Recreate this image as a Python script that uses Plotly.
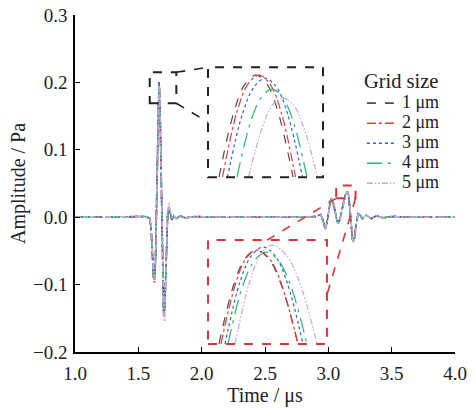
import plotly.graph_objects as go

# ---------------- data ----------------
names = ["1 μm", "2 μm", "3 μm", "4 μm", "5 μm"]
colors = ["#4d4d4d", "#e8393a", "#2a5fd0", "#2fb36e", "#c7a6e4"]
dashes = ["dash", "dashdot", "dot", "longdashdot", "6px,2px,1.5px,2px,1.5px,2px"]

time_us = [1.00, 1.50, 1.56, 1.59, 1.600, 1.610, 1.620, 1.628, 1.636, 1.644,
           1.650, 1.656, 1.663, 1.670, 1.677, 1.684, 1.692, 1.700, 1.708, 1.716,
           1.724, 1.732, 1.742, 1.752, 1.765, 1.78, 1.80, 1.83, 1.87, 1.95,
           2.10, 2.80, 2.90, 2.94, 2.96, 2.975, 2.99, 3.005, 3.018, 3.030,
           3.045, 3.060, 3.075, 3.090, 3.105, 3.120, 3.135, 3.150, 3.160, 3.170,
           3.180, 3.190, 3.198, 3.208, 3.220, 3.235, 3.250, 3.270, 3.30, 3.34,
           3.38, 3.43, 3.50, 3.70, 4.00]

amp_1um = [0, 0, 0.001, -0.002, -0.015, -0.050, -0.088, -0.093, -0.060, 0.020,
           0.090, 0.165, 0.203, 0.175, 0.090, -0.020, -0.110, -0.145, -0.135, -0.080,
           -0.025, 0.005, 0.012, 0.006, -0.004, 0.002, -0.002, 0.002, -0.001, 0.001,
           0, 0, 0.001, 0.004, -0.006, -0.018, -0.008, 0.012, 0.025, 0.028,
           0.016, 0.000, -0.009, -0.004, 0.010, 0.024, 0.034, 0.038, 0.032, 0.012,
           -0.012, -0.032, -0.036, -0.028, -0.008, 0.005, 0.003, -0.002, 0.003, -0.002,
           0.002, -0.001, 0.001, 0, 0]
amp_2um = [0, 0, 0.001, -0.002, -0.016, -0.052, -0.091, -0.097, -0.062, 0.019,
           0.089, 0.164, 0.202, 0.174, 0.090, -0.020, -0.110, -0.146, -0.136, -0.080,
           -0.025, 0.005, 0.012, 0.006, -0.004, 0.002, -0.002, 0.002, -0.001, 0.001,
           0, 0, 0.001, 0.004, -0.006, -0.018, -0.008, 0.012, 0.025, 0.028,
           0.016, 0.000, -0.009, -0.004, 0.010, 0.024, 0.034, 0.038, 0.032, 0.012,
           -0.012, -0.032, -0.036, -0.028, -0.008, 0.005, 0.003, -0.002, 0.003, -0.002,
           0.002, -0.001, 0.001, 0, 0]
amp_3um = [0, 0, 0.001, -0.002, -0.015, -0.050, -0.088, -0.094, -0.062, 0.017,
           0.086, 0.160, 0.200, 0.176, 0.094, -0.016, -0.108, -0.146, -0.138, -0.083,
           -0.027, 0.005, 0.013, 0.007, -0.004, 0.002, -0.002, 0.002, -0.001, 0.001,
           0, 0, 0.001, 0.004, -0.006, -0.018, -0.008, 0.012, 0.025, 0.028,
           0.016, 0.000, -0.009, -0.004, 0.010, 0.024, 0.034, 0.038, 0.033, 0.013,
           -0.011, -0.032, -0.036, -0.029, -0.009, 0.005, 0.003, -0.002, 0.003, -0.002,
           0.002, -0.001, 0.001, 0, 0]
amp_4um = [0, 0, 0.001, -0.002, -0.014, -0.048, -0.086, -0.093, -0.064, 0.013,
           0.082, 0.155, 0.197, 0.178, 0.098, -0.012, -0.105, -0.147, -0.140, -0.086,
           -0.029, 0.006, 0.015, 0.008, -0.004, 0.002, -0.002, 0.002, -0.001, 0.001,
           0, 0, 0.001, 0.004, -0.006, -0.017, -0.008, 0.011, 0.024, 0.028,
           0.017, 0.001, -0.009, -0.005, 0.009, 0.023, 0.033, 0.038, 0.034, 0.014,
           -0.010, -0.031, -0.037, -0.030, -0.010, 0.005, 0.003, -0.002, 0.003, -0.002,
           0.002, -0.001, 0.001, 0, 0]
amp_5um = [0, 0, 0.001, -0.002, -0.013, -0.046, -0.084, -0.092, -0.066, 0.008,
           0.076, 0.150, 0.195, 0.180, 0.104, -0.006, -0.102, -0.150, -0.155, -0.095,
           -0.030, 0.010, 0.021, 0.012, -0.003, 0.003, -0.002, 0.002, -0.001, 0.001,
           0, 0, 0.001, 0.004, -0.005, -0.017, -0.009, 0.010, 0.023, 0.028,
           0.018, 0.002, -0.008, -0.006, 0.008, 0.022, 0.032, 0.038, 0.035, 0.016,
           -0.008, -0.030, -0.037, -0.031, -0.012, 0.004, 0.003, -0.002, 0.003, -0.002,
           0.002, -0.001, 0.001, 0, 0]
amps = [amp_1um, amp_2um, amp_3um, amp_4um, amp_5um]

# zoomed view of the first peak (inset 1)
inset1_t = [
    [1.6522, 1.6552, 1.6574, 1.6596, 1.6618, 1.6640, 1.6670],
    [1.6529, 1.6558, 1.6580, 1.6602, 1.6624, 1.6646, 1.6675],
    [1.6539, 1.6569, 1.6592, 1.6614, 1.6637, 1.6659, 1.6689],
    [1.6558, 1.6586, 1.6607, 1.6628, 1.6649, 1.6670, 1.6698],
    [1.6581, 1.6609, 1.6629, 1.6650, 1.6671, 1.6691, 1.6719],
]
inset1_a = [
    [0.1820, 0.1951, 0.2006, 0.2024, 0.2006, 0.1951, 0.1820],
    [0.1820, 0.1951, 0.2006, 0.2024, 0.2006, 0.1951, 0.1820],
    [0.1820, 0.1947, 0.2000, 0.2018, 0.2000, 0.1947, 0.1820],
    [0.1820, 0.1933, 0.1980, 0.1996, 0.1980, 0.1933, 0.1820],
    [0.1820, 0.1921, 0.1964, 0.1978, 0.1964, 0.1921, 0.1820],
]
inset1_xrange = [1.650, 1.673]
inset1_yrange = [0.182, 0.204]

# zoomed view of the second-wave peak (inset 2)
inset2_t = [
    [3.1522, 3.1552, 3.1574, 3.1596, 3.1621, 3.1646, 3.1680],
    [3.1526, 3.1555, 3.1576, 3.1598, 3.1623, 3.1647, 3.1680],
    [3.1534, 3.1564, 3.1587, 3.1610, 3.1634, 3.1658, 3.1690],
    [3.1540, 3.1570, 3.1593, 3.1616, 3.1641, 3.1665, 3.1698],
    [3.1554, 3.1584, 3.1606, 3.1628, 3.1655, 3.1682, 3.1718],
]
inset2_a = [
    [0.0200, 0.0320, 0.0371, 0.0388, 0.0371, 0.0320, 0.0200],
    [0.0200, 0.0320, 0.0371, 0.0388, 0.0371, 0.0320, 0.0200],
    [0.0200, 0.0324, 0.0377, 0.0394, 0.0377, 0.0324, 0.0200],
    [0.0200, 0.0318, 0.0367, 0.0384, 0.0367, 0.0318, 0.0200],
    [0.0200, 0.0327, 0.0380, 0.0398, 0.0380, 0.0327, 0.0200],
]
inset2_xrange = [3.150, 3.1738]
inset2_yrange = [0.020, 0.0408]

x_range = [1.0, 4.0]
y_range = [-0.2, 0.3]
x_ticks = [1.0, 1.5, 2.0, 2.5, 3.0, 3.5, 4.0]
y_ticks = [-0.2, -0.1, 0.0, 0.1, 0.2, 0.3]

# zoom regions (main data coords) and inset box positions (main data coords)
zoom1_box = dict(x0=1.59, x1=1.80, y0=0.169, y1=0.215)
inset1_box = dict(x0=2.050, x1=2.958, y0=0.0593, y1=0.2226)
zoom2_box = dict(x0=3.062, x1=3.215, y0=0.028, y1=0.047)
inset2_box = dict(x0=2.050, x1=2.989, y0=-0.188, y1=-0.034)

FONT = "Liberation Serif, Times New Roman, DejaVu Serif, serif"
LEG_TXT = 18

fig = go.Figure()

for n, c, d, a in zip(names, colors, dashes, amps):
    fig.add_trace(go.Scatter(x=time_us, y=a, mode="lines",
                             name=f'<span style="font-size:{LEG_TXT}px">{n}</span>',
                             line=dict(color=c, dash=d, width=1.6),
                             xaxis="x", yaxis="y"))

for i in range(5):
    fig.add_trace(go.Scatter(x=inset1_t[i], y=inset1_a[i], mode="lines",
                             line=dict(color=colors[i], dash=dashes[i], width=1.2, shape="spline"),
                             showlegend=False, xaxis="x2", yaxis="y2"))
    fig.add_trace(go.Scatter(x=inset2_t[i], y=inset2_a[i], mode="lines",
                             line=dict(color=colors[i], dash=dashes[i], width=1.2, shape="spline"),
                             showlegend=False, xaxis="x3", yaxis="y3"))


def dom(v0, v1, r):
    return [(v0 - r[0]) / (r[1] - r[0]), (v1 - r[0]) / (r[1] - r[0])]


shapes = []
for box, col in [(zoom1_box, "#222222"), (inset1_box, "#222222"),
                 (zoom2_box, "#d9363a"), (inset2_box, "#d9363a")]:
    shapes.append(dict(type="rect", xref="x", yref="y", line=dict(color=col, width=2, dash="dash"),
                       **box))
# connector lines
conns = [
    ((zoom1_box["x1"], zoom1_box["y1"]), (inset1_box["x0"], inset1_box["y1"]), "#222222"),
    ((zoom1_box["x1"], zoom1_box["y0"]), (inset1_box["x0"], 0.141), "#222222"),
    ((zoom2_box["x0"], zoom2_box["y0"]), (2.516, inset2_box["y1"]), "#d9363a"),
    ((zoom2_box["x1"], zoom2_box["y0"]), (inset2_box["x1"], -0.115), "#d9363a"),
]
for (a0, b0), (a1, b1), col in conns:
    shapes.append(dict(type="line", xref="x", yref="y", x0=a0, y0=b0, x1=a1, y1=b1,
                       line=dict(color=col, width=1.6, dash="dash")))

axis_common = dict(showgrid=False, zeroline=False, showline=True, linecolor="black",
                   linewidth=1.5, ticks="inside", ticklen=5, tickwidth=1.2, tickcolor="black",
                   automargin=False, ticklabeloverflow="allow",
                   tickfont=dict(family=FONT, size=19, color="#222"))

fig.update_layout(
    width=474, height=409,
    margin=dict(l=75, r=19, t=15, b=57),
    plot_bgcolor="white", paper_bgcolor="white",
    font=dict(family=FONT, size=19, color="#222"),
    xaxis=dict(range=x_range, tickvals=x_ticks, ticktext=[f"{v:.1f}" for v in x_ticks],
               ticklabelstandoff=3,
               title=dict(text="Time / μs", font=dict(family=FONT, size=20), standoff=3),
               **axis_common),
    yaxis=dict(range=y_range, tickvals=y_ticks, ticktext=[f"{v:.1f}".replace("-", "−") for v in y_ticks],
               ticklabelstandoff=2,
               title=dict(text="Amplitude / Pa", font=dict(family=FONT, size=20), standoff=2),
               **axis_common),
    xaxis2=dict(domain=dom(inset1_box["x0"], inset1_box["x1"], x_range), range=inset1_xrange,
                anchor="y2", visible=False),
    yaxis2=dict(domain=dom(inset1_box["y0"], inset1_box["y1"], y_range), range=inset1_yrange,
                anchor="x2", visible=False),
    xaxis3=dict(domain=dom(inset2_box["x0"], inset2_box["x1"], x_range), range=inset2_xrange,
                anchor="y3", visible=False),
    yaxis3=dict(domain=dom(inset2_box["y0"], inset2_box["y1"], y_range), range=inset2_yrange,
                anchor="x3", visible=False),
    shapes=shapes,
    legend=dict(x=0.755, y=0.862, xanchor="left", yanchor="top",
                title=dict(text="Grid size", font=dict(family=FONT, size=20.5)),
                font=dict(family=FONT, size=13.1), bgcolor="rgba(255,255,255,0)",
                tracegroupgap=0, itemwidth=30),
)

fig.write_html("out.html",
               config={"displayModeBar": False},
               post_script="document.body.style.margin='0px';document.body.style.overflow='hidden';")
